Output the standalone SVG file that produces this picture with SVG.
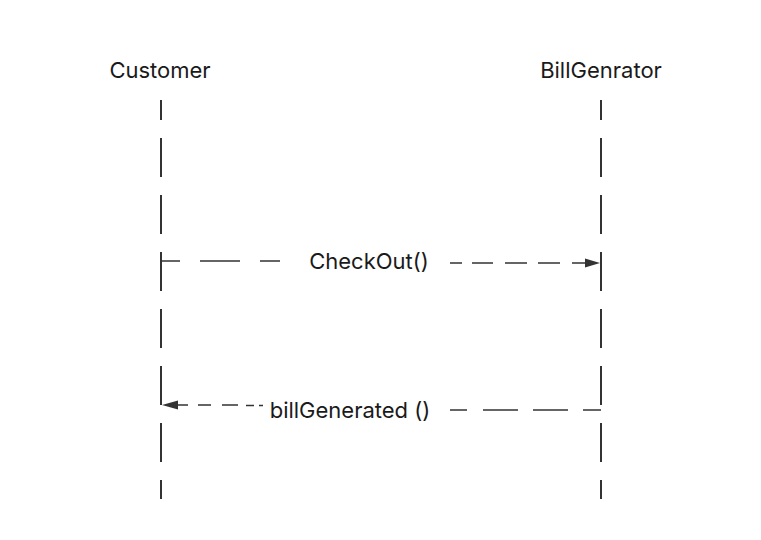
<svg xmlns="http://www.w3.org/2000/svg" width="761" height="540" viewBox="0 0 761 540">
  <style>
    .lbl { font-family: Inter, "Liberation Sans", sans-serif; font-size: 22px; fill: #1a1a1a; }
    .life { stroke: #333333; stroke-width: 2; fill: none; stroke-dasharray: 39 18; stroke-dashoffset: 19; }
    .msg { stroke: #333333; stroke-width: 1.5; fill: none; }
    .head { fill: #333333; stroke: none; }
  </style>
  <rect width="761" height="540" fill="#ffffff"/>
  <g id="customer">
    <text class="lbl" x="160" y="78" text-anchor="middle">Customer</text>
    <line class="life" x1="161" y1="100" x2="161" y2="499"/>
  </g>
  <g id="billgenrator">
    <text class="lbl" x="601" y="78" text-anchor="middle">BillGenrator</text>
    <line class="life" x1="601" y1="100" x2="601" y2="499"/>
  </g>
  <g id="connectors">
    <g id="checkout">
      <path class="msg" d="M161 261H180M200 261H240M260 261H280"/>
      <path class="msg" d="M450 263H462M472 263H493M505 263H527M538 263H560M572 263H586"/>
      <polygon class="head" points="600,263 585,258.5 585,267.5"/>
      <text class="lbl" x="369" y="269" text-anchor="middle">CheckOut()</text>
    </g>
    <g id="billgenerated">
      <polygon class="head" points="162,405 178,400.5 178,409.5"/>
      <path class="msg" d="M177 405H188M198 405H211M222 405H238M246 405.5H254M259 405.5H263"/>
      <path class="msg" d="M450 410H467M483 410H518M533 410H568M583 410H601"/>
      <text class="lbl" x="350" y="418" text-anchor="middle">billGenerated ()</text>
    </g>
  </g>
</svg>
